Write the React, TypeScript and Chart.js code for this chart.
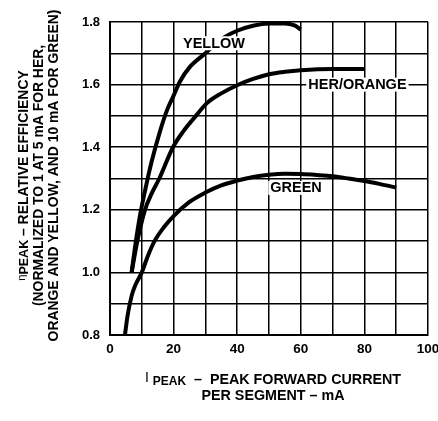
import React, { useEffect, useRef } from "react";
import { Chart, registerables } from "chart.js";

Chart.register(...registerables);

// ---- data ----
const yellowCurrent = [6.8, 8, 9.4, 11, 13, 15.7, 18, 20, 22, 25, 30, 35, 40, 45, 50, 55, 58, 60];
const yellowEff = [1.0, 1.09, 1.18, 1.26, 1.35, 1.45, 1.52, 1.565, 1.61, 1.655, 1.70, 1.745, 1.772, 1.788, 1.795, 1.795, 1.789, 1.776];

const herCurrent = [6.8, 8.6, 11, 13, 15.5, 19.8, 23, 27, 30.4, 35, 40, 45, 50, 55, 60, 70, 80];
const herEff = [1.0, 1.1, 1.2, 1.25, 1.3, 1.4, 1.45, 1.5, 1.54, 1.572, 1.598, 1.618, 1.633, 1.641, 1.646, 1.65, 1.65];

const greenCurrent = [4.7, 5.5, 6.8, 8, 10, 12, 14, 17, 20, 25, 30, 35, 40, 45, 50, 55, 60, 65, 70, 75, 80, 85, 90];
const greenEff = [0.8, 0.86, 0.925, 0.96, 1.0, 1.055, 1.1, 1.145, 1.18, 1.225, 1.255, 1.278, 1.293, 1.305, 1.312, 1.315, 1.314, 1.311, 1.307, 1.3, 1.292, 1.282, 1.271];

const curveLabels = ["YELLOW", "HER/ORANGE", "GREEN"];
const curveLabelCurrent = [32.7, 77.8, 58.5];
const curveLabelEff = [1.732, 1.6, 1.27];

const xMin = 0;
const xMax = 100;
const yMin = 0.8;
const yMax = 1.8;

const yTitleLines = [
  "(NORMALIZED TO 1 AT 5 mA FOR HER,",
  "ORANGE AND YELLOW, AND 10 mA FOR GREEN)",
];
const yTitleMain = " – RELATIVE EFFICIENCY";
const xTitleMain = "  –  PEAK FORWARD CURRENT";
const xTitleLine2 = "PER SEGMENT – mA";
const subscript = "PEAK";

const FONT = "'Liberation Sans', Arial, Helvetica, sans-serif";

function pairs(xs: number[], ys: number[]) {
  return xs.map((x, i) => ({ x, y: ys[i] }));
}

type Seg = { text: string; font: string; dy: number };

function drawRich(ctx: CanvasRenderingContext2D, segs: Seg[], cx: number, cy: number) {
  let total = 0;
  const widths = segs.map((s) => {
    ctx.font = s.font;
    const w = ctx.measureText(s.text).width;
    total += w;
    return w;
  });
  let x = cx - total / 2;
  ctx.textAlign = "left";
  ctx.textBaseline = "middle";
  segs.forEach((s, i) => {
    ctx.font = s.font;
    ctx.fillText(s.text, x, cy + s.dy);
    x += widths[i];
  });
}

const textPlugin = {
  id: "texts",
  afterDatasetsDraw(chart: any) {
    const { ctx, scales } = chart;
    const xs = scales.x;
    const ys = scales.y;
    ctx.save();
    ctx.font = `bold 14.5px ${FONT}`;
    ctx.textAlign = "center";
    ctx.textBaseline = "middle";
    curveLabels.forEach((t, i) => {
      const px = xs.getPixelForValue(curveLabelCurrent[i]);
      const py = ys.getPixelForValue(curveLabelEff[i]);
      const w = ctx.measureText(t).width;
      ctx.fillStyle = "#fff";
      ctx.fillRect(px - w / 2 - 2, py - 7, w + 4, 14);
      ctx.fillStyle = "#000";
      ctx.fillText(t, px, py + 0.5);
    });
    ctx.restore();
  },
  afterDraw(chart: any) {
    const { ctx, chartArea } = chart;
    const { left, right, top, bottom } = chartArea;
    ctx.save();
    ctx.fillStyle = "#000";
    const big = `bold 14.3px ${FONT}`;
    const small = `bold 12px ${FONT}`;
    // x title
    const cx = (left + right) / 2 + 4;
    drawRich(
      ctx,
      [
        { text: "I ", font: `14px ${FONT}`, dy: -2 },
        { text: subscript, font: small, dy: 1.5 },
        { text: xTitleMain, font: big, dy: 0 },
      ],
      cx,
      bottom + 45
    );
    drawRich(ctx, [{ text: xTitleLine2, font: big, dy: 0 }], cx, bottom + 61);

    // y title (rotated)
    const cy = (top + bottom) / 2 - 3;
    const yFont = `bold 13.9px ${FONT}`;
    const xs = [left - 86, left - 71, left - 56];
    ctx.save();
    ctx.translate(xs[0], cy);
    ctx.rotate(-Math.PI / 2);
    drawRich(
      ctx,
      [
        { text: "η", font: `11px ${FONT}`, dy: -2 },
        { text: subscript, font: `bold 12.5px ${FONT}`, dy: 1 },
        { text: yTitleMain, font: yFont, dy: 0 },
      ],
      0,
      0
    );
    ctx.restore();
    yTitleLines.forEach((line, i) => {
      ctx.save();
      ctx.translate(xs[i + 1], cy);
      ctx.rotate(-Math.PI / 2);
      drawRich(ctx, [{ text: line, font: yFont, dy: 0 }], 0, 0);
      ctx.restore();
    });
    ctx.restore();
  },
};

export default function App() {
  const ref = useRef<HTMLCanvasElement | null>(null);
  useEffect(() => {
    document.body.style.margin = "0";
    const canvas = ref.current!;
    const line = (data: any) => ({
      data,
      borderColor: "#000",
      borderWidth: 4,
      pointRadius: 0,
      showLine: true,
      fill: false,
      cubicInterpolationMode: "monotone" as const,
      borderCapStyle: "butt" as const,
    });
    const chart = new Chart(canvas, {
      type: "scatter",
      data: {
        datasets: [
          { label: "YELLOW", ...line(pairs(yellowCurrent, yellowEff)) },
          { label: "HER/ORANGE", ...line(pairs(herCurrent, herEff)) },
          { label: "GREEN", ...line(pairs(greenCurrent, greenEff)) },
        ],
      },
      options: {
        responsive: false,
        animation: false,
        layout: { padding: { top: 22, right: 10, left: 0, bottom: 0 } },
        plugins: { legend: { display: false }, tooltip: { enabled: false } },
        scales: {
          x: {
            type: "linear",
            min: xMin,
            max: xMax,
            afterFit: (s: any) => {
              s.height = 86;
              s.paddingLeft = 0;
              s.paddingRight = 0;
            },
            ticks: {
              stepSize: 10,
              padding: 6,
              color: "#000",
              font: { family: FONT, size: 13.5, weight: "bold" },
              maxRotation: 0,
              minRotation: 0,
              callback: (v: any) => (Math.round(v) % 20 === 0 ? String(v) : ""),
            },
            grid: { color: "#000", lineWidth: 1.5, drawTicks: false },
            border: { color: "#000", width: 2 },
          },
          y: {
            type: "linear",
            min: yMin,
            max: yMax,
            afterCalculateLabelRotation: (s: any) => {
              s.labelRotation = 0;
            },
            afterFit: (s: any) => {
              s.width = 110;
              s.paddingTop = 0;
              s.paddingBottom = 0;
              s.labelRotation = 0;
            },
            ticks: {
              stepSize: 0.1,
              padding: 10,
              color: "#000",
              maxRotation: 0,
              minRotation: 0,
              font: { family: FONT, size: 13, weight: "bold" },
              callback: (v: any) => (Math.round(v * 10) % 2 === 0 ? Number(v).toFixed(1) : ""),
            },
            grid: { color: "#000", lineWidth: 1.5, drawTicks: false },
            border: { color: "#000", width: 2 },
          },
        },
      },
      plugins: [textPlugin],
    });
    return () => chart.destroy();
  }, []);
  return <canvas ref={ref} width={438} height={421} style={{ display: "block" }} />;
}
